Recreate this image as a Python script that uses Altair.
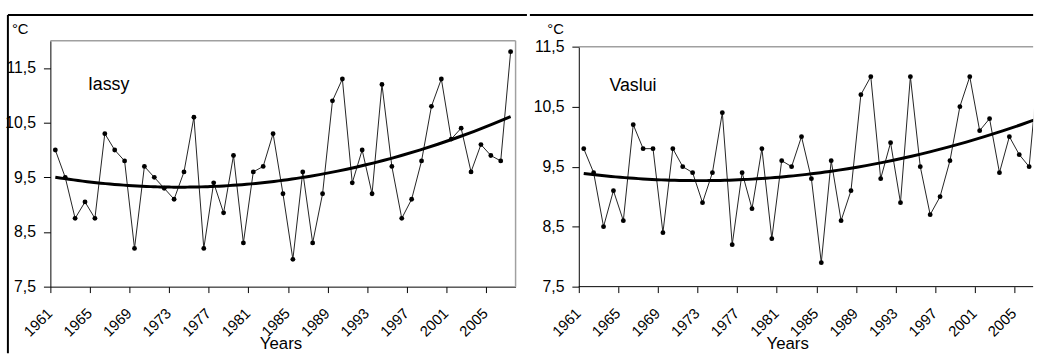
import altair as alt
import pandas as pd

years = list(range(1961, 2008))
iassy = [10.0, 9.5, 8.75, 9.05, 8.75, 10.3, 10.0, 9.8, 8.2, 9.7, 9.5, 9.3, 9.1, 9.6, 10.6,
         8.2, 9.4, 8.85, 9.9, 8.3, 9.6, 9.7, 10.3, 9.2, 8.0, 9.6, 8.3, 9.2, 10.9, 11.3,
         9.4, 10.0, 9.2, 11.2, 9.7, 8.75, 9.1, 9.8, 10.8, 11.3, 10.2, 10.4, 9.6, 10.1,
         9.9, 9.8, 11.8]
vaslui = [9.8, 9.4, 8.5, 9.1, 8.6, 10.2, 9.8, 9.8, 8.4, 9.8, 9.5, 9.4, 8.9, 9.4, 10.4,
          8.2, 9.4, 8.8, 9.8, 8.3, 9.6, 9.5, 10.0, 9.3, 7.9, 9.6, 8.6, 9.1, 10.7, 11.0,
          9.3, 9.9, 8.9, 11.0, 9.5, 8.7, 9.0, 9.6, 10.5, 11.0, 10.1, 10.3, 9.4, 10.0,
          9.7, 9.5, 11.3]
stations = ["Iassy", "Vaslui"]
y_ticks = [7.5, 8.5, 9.5, 10.5, 11.5]
x_ticks = [y - 0.5 for y in years] + [years[-1] + 0.5]
unit = "°C"
x_title = "Years"

FONT = "Liberation Sans"
PLOT_W = 471
PLOT_H = 249


def one(**kw):
    return alt.Chart(pd.DataFrame([kw] if kw else [{"k": 0}]))


def rule(color, width, **pos):
    return one().mark_rule(color=color, strokeWidth=width).encode(
        **{k: alt.value(v) for k, v in pos.items()})


def panel(values, name, ymax, view_w, y_top, tick_max, domain_line, title_x,
          unit_xy, name_xy, extra):
    df = pd.DataFrame({"year": years, "temp": values})
    ticks = [t for t in x_ticks if t <= tick_max]
    x = alt.X("year:Q",
              scale=alt.Scale(domain=[years[0] - 0.5, years[-1] + 0.5], nice=False,
                              zero=False, range=[0, PLOT_W]),
              axis=alt.Axis(values=ticks, domain=domain_line,
                            labelExpr="((datum.value + 0.5 - 1961) % 4 == 0 && datum.value < 2007) ? toString(datum.value + 0.5) : ''",
                            labelAngle=-45, labelAlign="right", labelBaseline="middle",
                            labelPadding=18, labelOffset=-1, labelFontSize=15,
                            tickSize=6, title=x_title, titleX=title_x, titleY=58,
                            titleBaseline="middle", titleFontSize=17,
                            titleFontWeight="normal"))
    y = alt.Y("temp:Q",
              scale=alt.Scale(domain=[7.5, ymax], nice=False, zero=False,
                              range=[PLOT_H, y_top]),
              axis=alt.Axis(values=y_ticks,
                            labelExpr="replace(format(datum.value, '.1f'), '.', ',')",
                            tickSize=7, labelPadding=8, labelFontSize=16, title=None))
    base = alt.Chart(df)
    line = base.mark_line(color="#222222", strokeWidth=1, clip=True).encode(x=x, y=y)
    pts = base.mark_point(filled=True, color="black", size=24, opacity=1, clip=True).encode(
        x="year:Q", y="temp:Q")
    trend = base.transform_regression("year", "temp", method="poly", order=2).mark_line(
        color="black", strokeWidth=3, clip=True).encode(x="year:Q", y="temp:Q")
    name_txt = one(t=name).mark_text(align="left", baseline="alphabetic", fontSize=18,
                                     font=FONT, color="black").encode(
        text="t:N", x=alt.value(name_xy[0]), y=alt.value(name_xy[1]))
    unit_txt = one(t=unit).mark_text(align="center", baseline="middle", fontSize=15,
                                     font=FONT, color="black").encode(
        text="t:N", x=alt.value(unit_xy[0]), y=alt.value(unit_xy[1]))
    layers = [line, trend, pts, name_txt, unit_txt] + extra
    return alt.layer(*layers).properties(width=view_w, height=PLOT_H)


GRAY = "#a0a0a0"
left = panel(iassy, stations[0], 12.0, PLOT_W, 0, 9999, True, 233, (-30.5, -11.5), (38, 50),
             [rule("white", 1, x=-50.5, y=-38.5, y2=-37),
              rule("white", 1, x=482.5, y=-38.5, y2=-37),
              rule(GRAY, 1.5, x=0, x2=PLOT_W, y=0),
              rule(GRAY, 1.5, x=PLOT_W, y=0, y2=PLOT_H),
              rule("black", 2, x=-43, y=-26, y2=316.5),
              rule("black", 2, x=-43, x2=482.5, y=-26)])
RIGHT_W = 460
right = panel(vaslui, stations[1], 11.5, RIGHT_W, 6, years[-2] + 0.5, False, 211,
              (-23.5, -11.5), (31, 51),
              [rule("white", 1, x=-49.5, y=-38.5, y2=-37),
               rule(GRAY, 1.5, x=0, x2=RIGHT_W, y=6),
               rule("black", 1, x=0, x2=RIGHT_W, y=PLOT_H),
               rule("black", 2, x=-49.5, x2=RIGHT_W, y=-26)])

chart = alt.hconcat(left, right, spacing=0).properties(padding=0, background="white").configure_view(
    stroke=None
).configure_axis(
    domainColor="black", domainWidth=1, tickColor="black", grid=False,
    labelColor="black", labelFont=FONT, titleFont=FONT, titleColor="black"
)

chart.save("out.html", embed_options={"renderer": "svg", "actions": False})
